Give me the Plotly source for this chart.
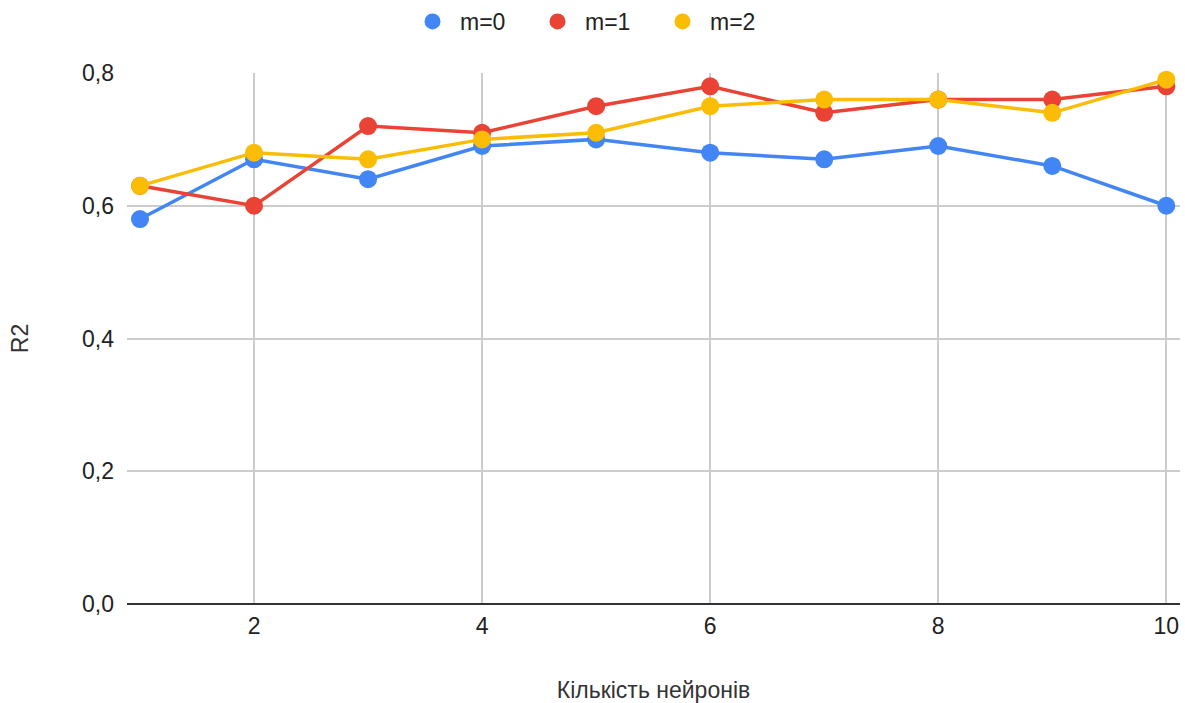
import plotly.graph_objects as go

neurons = [1, 2, 3, 4, 5, 6, 7, 8, 9, 10]
m0 = [0.58, 0.67, 0.64, 0.69, 0.70, 0.68, 0.67, 0.69, 0.66, 0.60]
m1 = [0.63, 0.60, 0.72, 0.71, 0.75, 0.78, 0.74, 0.76, 0.76, 0.78]
m2 = [0.63, 0.68, 0.67, 0.70, 0.71, 0.75, 0.76, 0.76, 0.74, 0.79]
names = ["m=0", "m=1", "m=2"]
colors = ["#4285F4", "#EA4335", "#FBBC04"]

fig = go.Figure()
for name, ys, c in zip(names, [m0, m1, m2], colors):
    fig.add_trace(go.Scatter(x=neurons, y=ys, mode="lines+markers", name=name,
                             line=dict(color=c, width=3.5),
                             marker=dict(color=c, size=18),
                             showlegend=False, cliponaxis=False))
for name, c in zip(names, colors):
    fig.add_trace(go.Scatter(x=[None], y=[None], mode="markers", name=name,
                             marker=dict(color=c, size=24), showlegend=True))

fig.update_layout(
    width=1185, height=703,
    margin=dict(l=127, r=5, t=73, b=99),
    paper_bgcolor="white", plot_bgcolor="white",
    font=dict(family="Liberation Sans, Arial, sans-serif", size=23, color="#222222"),
    separators=", ",
    legend=dict(orientation="h", x=0.5, xanchor="center", xref="container",
                y=1.0, yanchor="top", yref="container",
                font=dict(size=23, color="#222222"),
                itemsizing="trace", itemwidth=45, entrywidth=65),
    xaxis=dict(range=[0.886, 10.12], tickvals=[2, 4, 6, 8, 10],
               showgrid=True, gridcolor="#cccccc", gridwidth=1.5,
               zeroline=False, showline=False, ticks="", ticklabelstandoff=6,
               title=dict(text="Кількість нейронів", font=dict(size=23, color="#333333"),
                          standoff=43)),
    yaxis=dict(range=[0, 0.8], tickvals=[0, 0.2, 0.4, 0.6, 0.8], tickformat=".1f",
               showgrid=True, gridcolor="#cccccc", gridwidth=1.5,
               zeroline=True, zerolinecolor="#333333", zerolinewidth=2,
               showline=False, ticks="", ticklabelstandoff=12,
               title=dict(text="R2", font=dict(size=23, color="#333333"), standoff=46)),
)
fig.write_html("out.html")
